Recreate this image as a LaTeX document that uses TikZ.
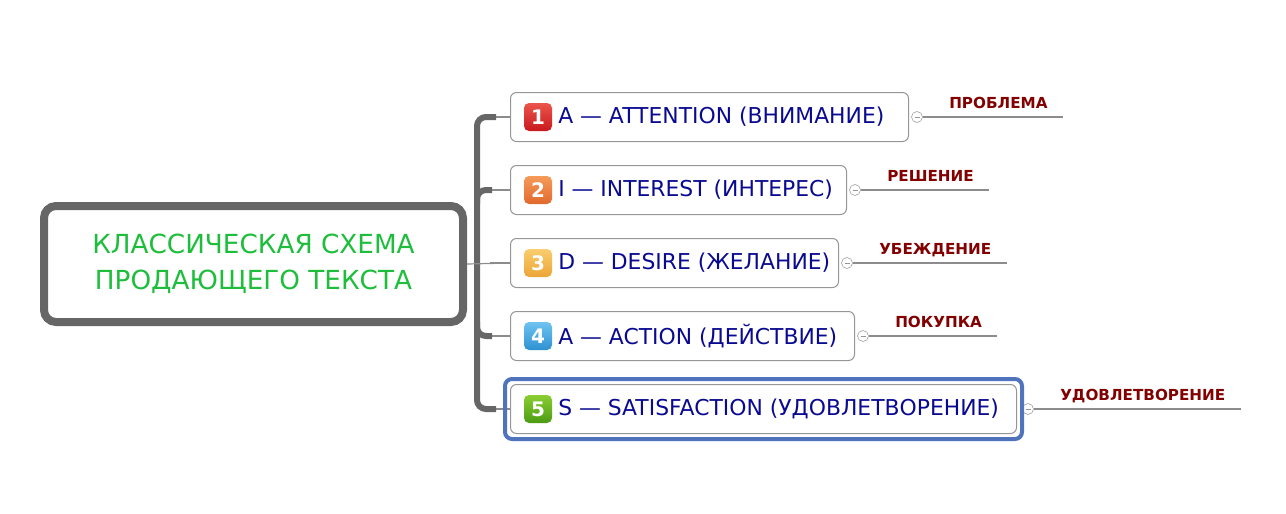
\documentclass[tikz,border=0pt]{standalone}
\usepackage{fontspec}
\setmainfont{DejaVu Sans}
\usetikzlibrary{positioning,fit}
\newdimen\pxl \pxl=0.75pt
% Farben
\definecolor{rahmen}{RGB}{102,102,102}
\definecolor{astgrau}{RGB}{140,140,140}
\definecolor{kastenrand}{RGB}{150,150,150}
\definecolor{gruen}{RGB}{30,190,60}
\definecolor{blautext}{RGB}{10,10,145}
\definecolor{rotbraun}{RGB}{130,0,0}
\definecolor{auswahlblau}{RGB}{80,115,190}
\definecolor{z1a}{RGB}{235,85,75}\definecolor{z1b}{RGB}{200,25,30}
\definecolor{z2a}{RGB}{245,155,90}\definecolor{z2b}{RGB}{225,105,45}
\definecolor{z3a}{RGB}{250,205,110}\definecolor{z3b}{RGB}{235,165,55}
\definecolor{z4a}{RGB}{110,195,240}\definecolor{z4b}{RGB}{45,145,210}
\definecolor{z5a}{RGB}{140,205,50}\definecolor{z5b}{RGB}{75,155,20}
\tikzset{
  haupt/.style={draw=rahmen, line width=8\pxl, rounded corners=12\pxl, minimum width=419\pxl,
    minimum height=116\pxl, text=gruen, align=center, font=\fontsize{19.7}{27}\selectfont},
  kasten/.style={draw=kastenrand, line width=1\pxl, rounded corners=6\pxl, minimum height=49\pxl,
    anchor=west, inner sep=0pt},
  titel/.style={text=blautext, anchor=west, inner sep=0pt, font=\fontsize{16.4}{18}\selectfont},
  ziffer/.style={rounded corners=5\pxl, minimum size=28\pxl, inner sep=0pt, text=white,
    font=\bfseries\fontsize{15}{16}\selectfont},
  knopf/.style={circle, draw=kastenrand, fill=white, minimum size=11\pxl, inner sep=0pt},
  notiz/.style={text=rotbraun, anchor=base west, inner sep=0pt, font=\bfseries\fontsize{11.4}{13}\selectfont},
  stamm/.style={draw=rahmen, line width=6\pxl, rounded corners=9\pxl},
  ast/.style={draw=astgrau, line width=1.2\pxl},
  auswahl/.style={draw=auswahlblau, line width=4\pxl, rounded corners=7\pxl, inner sep=5\pxl}
}
\begin{document}
\begin{tikzpicture}[x=0.75pt, y=-0.75pt]
  \useasboundingbox (0,0) rectangle (1286,514);
  % der Hauptknoten
  \node[haupt] (haupt) at (253.5,264) {КЛАССИЧЕСКАЯ СХЕМА\\ПРОДАЮЩЕГО ТЕКСТА};
  % die fünf Stufen
  \foreach \i/\y/\w/\d/\txt/\lab in {1/117/398/8/A — ATTENTION (ВНИМАНИЕ)/ПРОБЛЕМА,
      2/190/336/8/I — INTEREST (ИНТЕРЕС)/РЕШЕНИЕ,
      3/263/328/8/D — DESIRE (ЖЕЛАНИЕ)/УБЕЖДЕНИЕ,
      4/336/344/8/A — ACTION (ДЕЙСТВИЕ)/ПОКУПКА,
      5/409/506/11/S — SATISFACTION (УДОВЛЕТВОРЕНИЕ)/УДОВЛЕТВОРЕНИЕ}
  {
    \node[kasten, minimum width=\w\pxl] (c\i) at (510,\y) {};
    \node[ziffer, top color=z\i a, bottom color=z\i b] (z\i) at (538,\y) {\i};
    \node[titel] (t\i) at (558,\y) {\txt};
    % Knopf und Notiz
    \node[knopf] (k\i) at ([xshift=\d\pxl]c\i.east) {};
    \draw[kastenrand, line width=0.8\pxl] ([xshift=-2.5\pxl]k\i.center) -- ([xshift=2.5\pxl]k\i.center);
    \node[notiz] (l\i) at ([xshift=32\pxl, yshift=9\pxl]k\i.center) {\lab};
    \coordinate (e\i) at ([xshift=15\pxl]l\i.east |- k\i.center);
    \draw[ast] (k\i) -- (e\i);
    % Ast zum Stamm
    \draw[ast] ([xshift=-20\pxl]c\i.west) -- (c\i.west);
  }
  \node[auswahl, fit=(c5)] (wahl) {};
  % der Stamm
  \draw[stamm] ([xshift=-14\pxl]c1.west) -| ([xshift=-33\pxl]c3.west) |- ([xshift=-14\pxl]c5.west);
  \draw[stamm] ([xshift=-33\pxl, yshift=-14\pxl]c2.west) |- ([xshift=-18\pxl]c2.west);
  \draw[stamm] ([xshift=-33\pxl, yshift=14\pxl]c4.west) |- ([xshift=-18\pxl]c4.west);
  \draw[ast] (haupt.east) -- (c3.west);
\end{tikzpicture}
\end{document}
